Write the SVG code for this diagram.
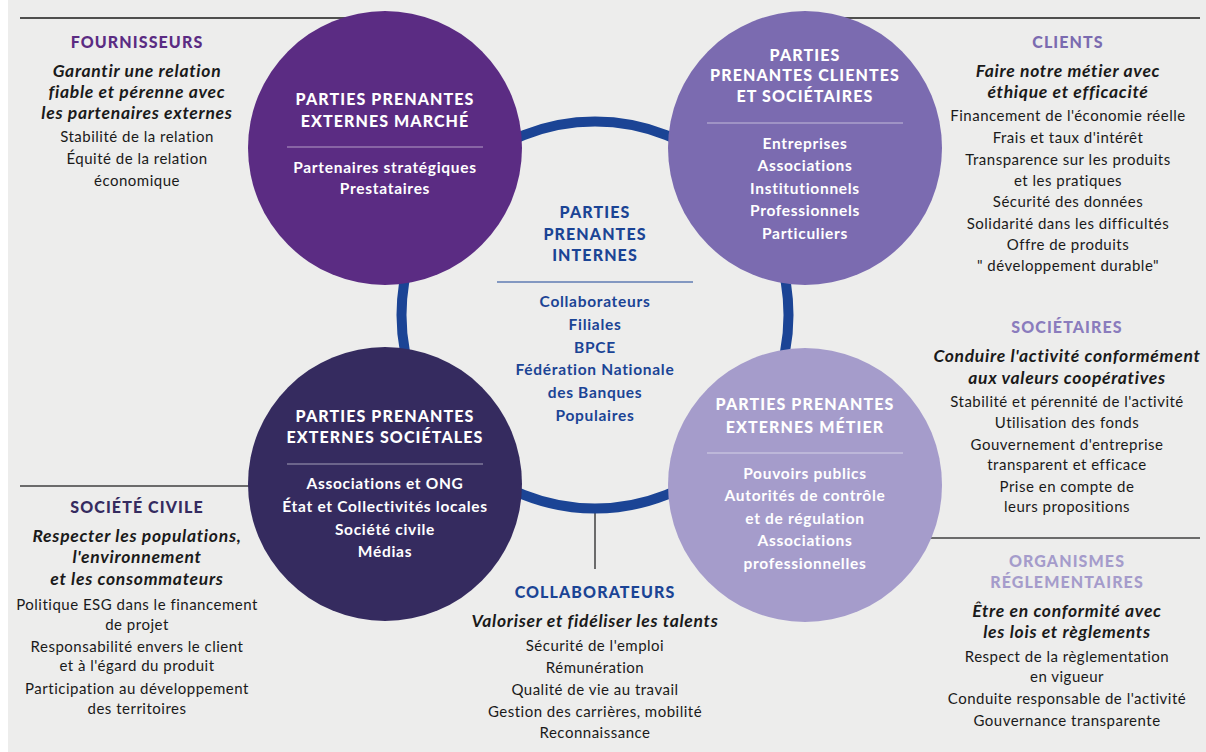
<svg xmlns="http://www.w3.org/2000/svg" width="1206" height="752" viewBox="0 0 1206 752">
  <style>
    text { font-family: Lato, "Open Sans", "Liberation Sans", sans-serif; text-anchor: middle; }
    .head { font-size: 16px; font-weight: 900; letter-spacing: 1.1px; }
    .nodehead { font-size: 16px; font-weight: 900; fill: #ffffff; letter-spacing: 1.1px; }
    .nodeitem { font-size: 15.5px; font-weight: 700; fill: #ffffff; letter-spacing: 0.7px; }
    .inhead { font-size: 16px; font-weight: 900; fill: #1b4495; letter-spacing: 1.1px; }
    .initem { font-size: 15.5px; font-weight: 700; fill: #1b4495; letter-spacing: 0.7px; }
    .goal { font-size: 17.5px; font-style: italic; font-weight: 700; fill: #1a1a1a; letter-spacing: 0.7px; }
    .item { font-size: 15px; fill: #1a1a1a; letter-spacing: 0.5px; }
    .rule { stroke: #ffffff; stroke-opacity: 0.55; stroke-width: 1.2; }
    .sep { stroke: #6b6b6b; stroke-width: 2; fill: none; }
    .top { stroke: #1a1a1a; stroke-width: 1.3; fill: none; }
  </style>

  <rect x="0" y="0" width="1206" height="752" fill="#ffffff"/>
  <rect x="8" y="0" width="1198" height="752" fill="#ededec"/>

  <!-- separators and ring -->
  <g id="connectors">
    <line class="top" x1="20" y1="18" x2="360" y2="18"/>
    <line class="top" x1="830" y1="18" x2="1200" y2="18"/>
    <line class="sep" x1="20" y1="486" x2="270" y2="486"/>
    <line class="sep" x1="910" y1="538" x2="1200" y2="538"/>
    <line class="sep" x1="595" y1="510" x2="595" y2="569"/>
    <circle cx="595" cy="315" r="193.5" fill="none" stroke="#1b4495" stroke-width="10"/>
  </g>

  <!-- stakeholder circles -->
  <g id="node-marche">
    <circle cx="385" cy="148" r="137" fill="#5b2c83"/>
    <text class="nodehead" x="385" y="105">PARTIES PRENANTES</text>
    <text class="nodehead" x="385" y="127">EXTERNES MARCHÉ</text>
    <line class="rule" x1="287" y1="147" x2="483" y2="147"/>
    <text class="nodeitem" x="385" y="173">Partenaires stratégiques</text>
    <text class="nodeitem" x="385" y="194">Prestataires</text>
  </g>

  <g id="node-clientes">
    <circle cx="805" cy="148" r="137" fill="#7b6bb0"/>
    <text class="nodehead" x="805" y="61">PARTIES</text>
    <text class="nodehead" x="805" y="81">PRENANTES CLIENTES</text>
    <text class="nodehead" x="805" y="102">ET SOCIÉTAIRES</text>
    <line class="rule" x1="707" y1="123" x2="903" y2="123"/>
    <text class="nodeitem" x="805" y="149">Entreprises</text>
    <text class="nodeitem" x="805" y="171">Associations</text>
    <text class="nodeitem" x="805" y="194">Institutionnels</text>
    <text class="nodeitem" x="805" y="216">Professionnels</text>
    <text class="nodeitem" x="805" y="239">Particuliers</text>
  </g>

  <g id="node-societales">
    <circle cx="385" cy="484" r="137" fill="#352b5f"/>
    <text class="nodehead" x="385" y="422">PARTIES PRENANTES</text>
    <text class="nodehead" x="385" y="443">EXTERNES SOCIÉTALES</text>
    <line class="rule" x1="287" y1="464" x2="483" y2="464"/>
    <text class="nodeitem" x="385" y="489">Associations et ONG</text>
    <text class="nodeitem" x="385" y="512">État et Collectivités locales</text>
    <text class="nodeitem" x="385" y="535">Société civile</text>
    <text class="nodeitem" x="385" y="557">Médias</text>
  </g>

  <g id="node-metier">
    <circle cx="805" cy="485" r="137" fill="#a59ccb"/>
    <text class="nodehead" x="805" y="410">PARTIES PRENANTES</text>
    <text class="nodehead" x="805" y="433">EXTERNES MÉTIER</text>
    <line class="rule" x1="707" y1="453" x2="903" y2="453"/>
    <text class="nodeitem" x="805" y="479">Pouvoirs publics</text>
    <text class="nodeitem" x="805" y="501">Autorités de contrôle</text>
    <text class="nodeitem" x="805" y="524">et de régulation</text>
    <text class="nodeitem" x="805" y="546">Associations</text>
    <text class="nodeitem" x="805" y="569">professionnelles</text>
  </g>

  <g id="node-internes">
    <text class="inhead" x="595" y="218">PARTIES</text>
    <text class="inhead" x="595" y="240">PRENANTES</text>
    <text class="inhead" x="595" y="261">INTERNES</text>
    <line x1="497" y1="282" x2="693" y2="282" stroke="#1b4495" stroke-width="1.2"/>
    <text class="initem" x="595" y="307">Collaborateurs</text>
    <text class="initem" x="595" y="330">Filiales</text>
    <text class="initem" x="595" y="353">BPCE</text>
    <text class="initem" x="595" y="375">Fédération Nationale</text>
    <text class="initem" x="595" y="398">des Banques</text>
    <text class="initem" x="595" y="421">Populaires</text>
  </g>

  <!-- expectation blocks -->
  <g id="block-fournisseurs">
    <text class="head" x="137" y="48" fill="#5b2c83">FOURNISSEURS</text>
    <text class="goal" x="137" y="77">Garantir une relation</text>
    <text class="goal" x="137" y="98">fiable et pérenne avec</text>
    <text class="goal" x="137" y="119">les partenaires externes</text>
    <text class="item" x="137" y="142">Stabilité de la relation</text>
    <text class="item" x="137" y="164">Équité de la relation</text>
    <text class="item" x="137" y="186">économique</text>
  </g>

  <g id="block-clients">
    <text class="head" x="1068" y="48" fill="#7b6bb0">CLIENTS</text>
    <text class="goal" x="1068" y="77">Faire notre métier avec</text>
    <text class="goal" x="1068" y="98">éthique et efficacité</text>
    <text class="item" x="1068" y="121">Financement de l'économie réelle</text>
    <text class="item" x="1068" y="143">Frais et taux d'intérêt</text>
    <text class="item" x="1068" y="165">Transparence sur les produits</text>
    <text class="item" x="1068" y="186">et les pratiques</text>
    <text class="item" x="1068" y="207">Sécurité des données</text>
    <text class="item" x="1068" y="229">Solidarité dans les difficultés</text>
    <text class="item" x="1068" y="250">Offre de produits</text>
    <text class="item" x="1068" y="271">" développement durable"</text>
  </g>

  <g id="block-societaires">
    <text class="head" x="1067" y="333" fill="#8a7cbd">SOCIÉTAIRES</text>
    <text class="goal" x="1067" y="362">Conduire l'activité conformément</text>
    <text class="goal" x="1067" y="384">aux valeurs coopératives</text>
    <text class="item" x="1067" y="407">Stabilité et pérennité de l'activité</text>
    <text class="item" x="1067" y="428">Utilisation des fonds</text>
    <text class="item" x="1067" y="450">Gouvernement d'entreprise</text>
    <text class="item" x="1067" y="470">transparent et efficace</text>
    <text class="item" x="1067" y="492">Prise en compte de</text>
    <text class="item" x="1067" y="512">leurs propositions</text>
  </g>

  <g id="block-organismes">
    <text class="head" x="1067" y="567" fill="#a59ccb">ORGANISMES</text>
    <text class="head" x="1067" y="588" fill="#a59ccb">RÉGLEMENTAIRES</text>
    <text class="goal" x="1067" y="617">Être en conformité avec</text>
    <text class="goal" x="1067" y="638">les lois et règlements</text>
    <text class="item" x="1067" y="662">Respect de la règlementation</text>
    <text class="item" x="1067" y="682">en vigueur</text>
    <text class="item" x="1067" y="704">Conduite responsable de l'activité</text>
    <text class="item" x="1067" y="726">Gouvernance transparente</text>
  </g>

  <g id="block-societe-civile">
    <text class="head" x="137" y="513" fill="#352b5f">SOCIÉTÉ CIVILE</text>
    <text class="goal" x="137" y="542">Respecter les populations,</text>
    <text class="goal" x="137" y="563">l'environnement</text>
    <text class="goal" x="137" y="585">et les consommateurs</text>
    <text class="item" x="137" y="610">Politique ESG dans le financement</text>
    <text class="item" x="137" y="630">de projet</text>
    <text class="item" x="137" y="652">Responsabilité envers le client</text>
    <text class="item" x="137" y="671">et à l'égard du produit</text>
    <text class="item" x="137" y="694">Participation au développement</text>
    <text class="item" x="137" y="714">des territoires</text>
  </g>

  <g id="block-collaborateurs">
    <text class="head" x="595" y="598" fill="#1b4495">COLLABORATEURS</text>
    <text class="goal" x="595" y="627">Valoriser et fidéliser les talents</text>
    <text class="item" x="595" y="651">Sécurité de l'emploi</text>
    <text class="item" x="595" y="673">Rémunération</text>
    <text class="item" x="595" y="695">Qualité de vie au travail</text>
    <text class="item" x="595" y="717">Gestion des carrières, mobilité</text>
    <text class="item" x="595" y="738">Reconnaissance</text>
  </g>
</svg>
